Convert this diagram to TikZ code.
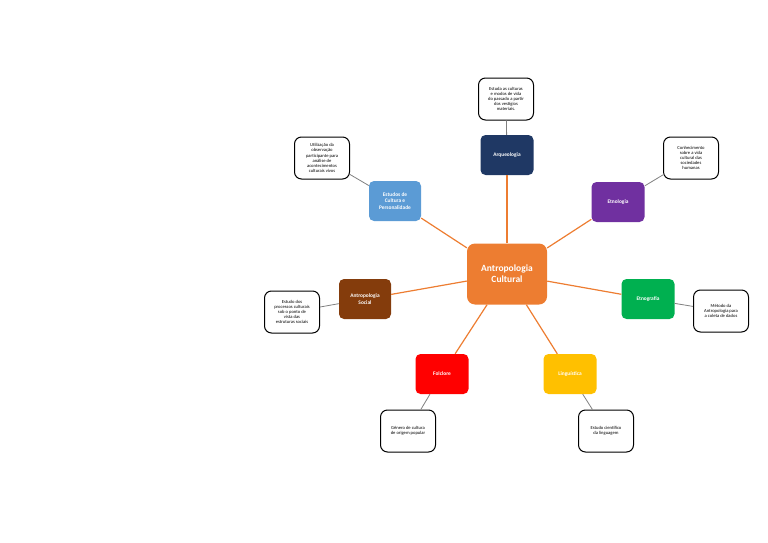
\documentclass[tikz,border=0pt]{standalone}
\usepackage{fontspec}
\setmainfont{Carlito}
\usepackage{xcolor}
\definecolor{laranja}{HTML}{ED7D31}
\definecolor{azulesc}{HTML}{1F3864}
\definecolor{azulcla}{HTML}{5B9BD5}
\definecolor{roxo}{HTML}{7030A0}
\definecolor{verde}{HTML}{00B050}
\definecolor{marrom}{HTML}{843C0C}
\definecolor{amarelo}{HTML}{FFC000}

\tikzset{
  topico/.style={draw=none, rounded corners=5pt, minimum width=53pt, minimum height=40pt, text width=38pt, align=flush center, text=white, font=\fontsize{5.4}{6.6}\selectfont\bfseries},
  folha/.style={draw=black, line width=1pt, rounded corners=7pt, fill=white, minimum width=55pt, minimum height=42pt, text width=36pt, align=flush center, font=\fontsize{4.6}{5.1}\selectfont},
  ramo/.style={laranja, line width=1.2pt},
  galho/.style={gray, line width=0.8pt}
}

\begin{document}
\begin{tikzpicture}[x=1pt, y=-1pt]
\useasboundingbox (0,0) rectangle (768,543);
% centro
\node[fill=laranja, rounded corners=8pt, minimum width=80pt, minimum height=61pt, text width=72pt, align=center, text=white, font=\fontsize{9.5}{11}\selectfont\bfseries] (cult) at (507,274) {Antropologia Cultural};
% topicos
\node[topico, fill=azulesc] (arq) at (507,155) {Arqueologia};
\node[topico, fill=azulcla, minimum width=52pt] (pers) at (395,201) {Estudos de Cultura e Personalidade};
\node[topico, fill=roxo] (etnol) at (618,202) {Etnologia};
\node[topico, fill=verde] (etnog) at (648,299) {Etnografia};
\node[topico, fill=marrom, minimum width=52pt] (soc) at (365,299) {Antropologia Social};
\node[topico, fill=red] (folc) at (442,374) {Folclore};
\node[topico, fill=amarelo] (ling) at (570,374) {Linguística};
% folhas
\node[folha] (farq) at (506,99) {Estuda as culturas e modos de vida do passado a partir dos vestígios materiais.};
\node[folha] (fpers) at (322,158) {Utilização da observação participante para análise de acontecimentos culturais vivos};
\node[folha] (fetnol) at (691,158) {Conhecimento sobre a vida cultural das sociedades humanas};
\node[folha] (fsoc) at (292,312) {Estudo dos processos culturais sob o ponto de vista das estruturas sociais};
\node[folha] (fetnog) at (721,311) {Método da Antropologia para a coleta de dados};
\node[folha] (ffolc) at (408,431) {Gênero de cultura de origem popular};
\node[folha] (fling) at (606,431) {Estudo científico da linguagem};
% ligacoes
\foreach \t in {arq,pers,etnol,etnog,soc,folc,ling}
  \draw[ramo] (cult) -- (\t);
\draw[galho] (arq) -- (farq);
\draw[galho] (pers) -- (fpers);
\draw[galho] (etnol) -- (fetnol);
\draw[galho] (soc) -- (fsoc);
\draw[galho] (etnog) -- (fetnog);
\draw[galho] (folc) -- (ffolc);
\draw[galho] (ling) -- (fling);
\end{tikzpicture}
\end{document}
